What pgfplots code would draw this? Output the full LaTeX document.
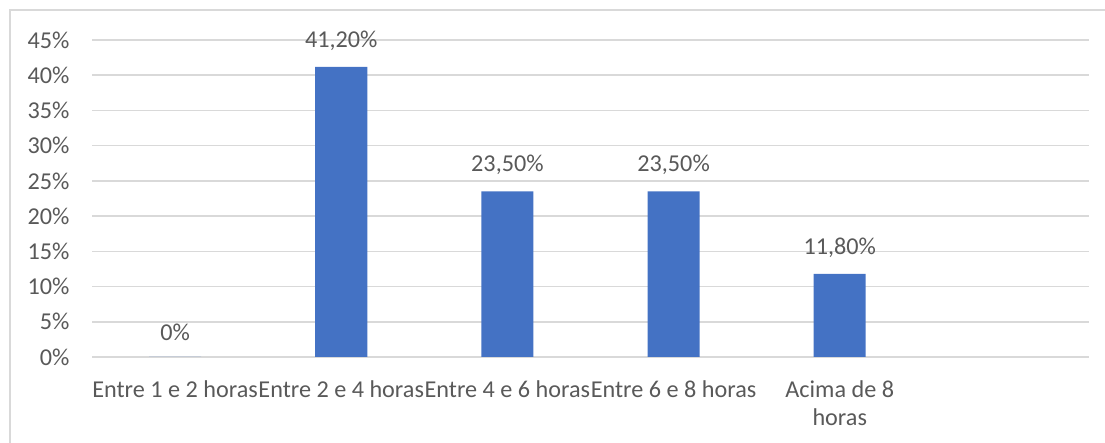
\documentclass[border=0pt]{standalone}
\usepackage{pgfplots}
\pgfplotsset{compat=1.18}
\usepackage{fontspec}
\setmainfont{Carlito}
\definecolor{barblue}{HTML}{4472C4}
\definecolor{gridgray}{HTML}{D9D9D9}
\definecolor{txtgray}{HTML}{595959}
\newcommand{\chartfont}{\fontsize{12.1}{14.2}\selectfont}
\begin{document}
\chartfont
\begin{tikzpicture}
\useasboundingbox (0,0) rectangle (552.5pt,221.5pt);
\draw[gridgray, line width=0.8pt] (5pt,0) -- (5pt,216.5pt) -- (552.5pt,216.5pt);
\begin{axis}[
    at={(46pt,43pt)}, anchor=south west,
    scale only axis,
    width=498.5pt, height=158.5pt,
    ybar, bar width=26pt,
    xmin=-0.5, xmax=5.5,
    ymin=0, ymax=45,
    xtick={0,1,2,3,4,5},
    xticklabels={Entre 1 e 2 horas, Entre 2 e 4 horas, Entre 4 e 6 horas, Entre 6 e 8 horas, {Acima de 8\\horas}, {}},
    ytick={0,5,10,15,20,25,30,35,40,45},
    yticklabels={0\%,5\%,10\%,15\%,20\%,25\%,30\%,35\%,40\%,45\%},
    xticklabel style={align=center, text=txtgray, font=\chartfont, yshift=-7.5pt, inner xsep=0pt},
    yticklabel style={text=txtgray, font=\chartfont, xshift=-7pt},
    major tick length=0pt,
    axis line style={draw=none},
    ymajorgrids, grid style={gridgray, line width=0.75pt},
    point meta=explicit symbolic,
    nodes near coords,
    nodes near coords style={text=txtgray, font=\chartfont, yshift=4pt},
]
\addplot[fill=barblue, draw=none] coordinates {
    (0,0) [0\%]
    (1,41.2) [41,20\%]
    (2,23.5) [23,50\%]
    (3,23.5) [23,50\%]
    (4,11.8) [11,80\%]
};
\end{axis}
\end{tikzpicture}
\end{document}
